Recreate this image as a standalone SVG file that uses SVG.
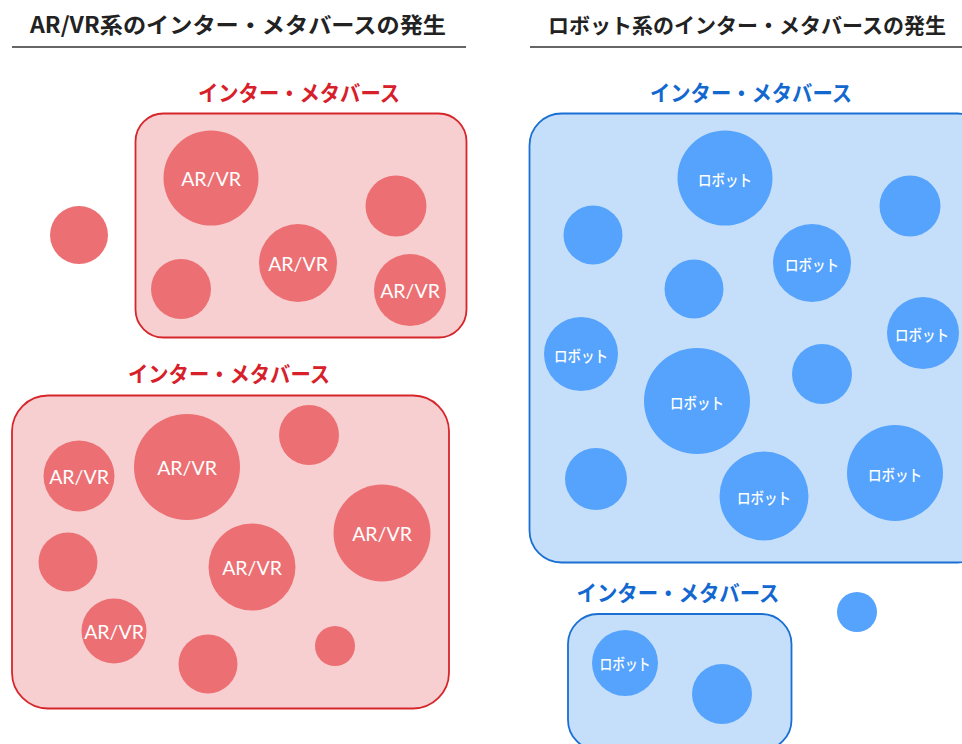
<svg xmlns="http://www.w3.org/2000/svg" width="962" height="744" viewBox="0 0 962 744">
<style>
.title{font-family:"Noto Sans CJK JP","Noto Sans",sans-serif;font-weight:700;font-size:22px;fill:#222;text-anchor:middle}
.title2{font-size:21px}
.rule{stroke:#333;stroke-width:1.3}
.lblr{font-family:"Noto Sans CJK JP",sans-serif;font-weight:700;font-size:22px;fill:#d7202a;text-anchor:middle}
.lblb{font-family:"Noto Sans CJK JP",sans-serif;font-weight:700;font-size:22px;fill:#1368d0;text-anchor:middle}
.boxr{fill:#f8cfd0;stroke:#d7262b;stroke-width:1.8}
.boxb{fill:#c5dffb;stroke:#1a6fd3;stroke-width:1.8}
.cr{fill:#ec7073}
.cb{fill:#55a3fc}
.tr{font-family:Lato,"Open Sans",sans-serif;font-size:19.5px;fill:#fff;text-anchor:middle;dominant-baseline:central}
.tb{font-family:"Noto Sans CJK JP",sans-serif;font-size:16px;font-weight:500;fill:#fff;text-anchor:middle;dominant-baseline:central}
</style>
<rect width="962" height="744" fill="#fff"/>
<g id="title-left">
<text class="title" x="238" y="33" textLength="416" lengthAdjust="spacingAndGlyphs">AR/VR系のインター・メタバースの発生</text>
<line class="rule" x1="12" y1="47" x2="466" y2="47"/>
</g>
<g id="title-right">
<text class="title title2" x="747" y="33" textLength="398" lengthAdjust="spacingAndGlyphs">ロボット系のインター・メタバースの発生</text>
<line class="rule" x1="530" y1="47" x2="962" y2="47"/>
</g>

<g id="ar-meta-1">
<text class="lblr" x="299" y="101" textLength="202" lengthAdjust="spacingAndGlyphs">インター・メタバース</text>
<rect class="boxr" x="135.5" y="113.5" width="331" height="224" rx="28"/>
<g id="ar1-a"><circle class="cr" cx="211" cy="178" r="47.5"/><text class="tr" x="211" y="178">AR/VR</text></g>
<g id="ar1-b"><circle class="cr" cx="396" cy="206" r="30.5"/></g>
<g id="ar1-c"><circle class="cr" cx="298" cy="263" r="39"/><text class="tr" x="298" y="263">AR/VR</text></g>
<g id="ar1-d"><circle class="cr" cx="181" cy="289" r="30"/></g>
<g id="ar1-e"><circle class="cr" cx="410" cy="290" r="36"/><text class="tr" x="410" y="290">AR/VR</text></g>
</g>
<g id="ar-lone"><circle class="cr" cx="79" cy="235" r="29"/></g>

<g id="ar-meta-2">
<text class="lblr" x="229" y="382" textLength="202" lengthAdjust="spacingAndGlyphs">インター・メタバース</text>
<rect class="boxr" x="12" y="395.5" width="437" height="313" rx="36"/>
<g id="ar2-a"><circle class="cr" cx="79" cy="476" r="35.5"/><text class="tr" x="79" y="476">AR/VR</text></g>
<g id="ar2-b"><circle class="cr" cx="187" cy="467" r="53"/><text class="tr" x="187" y="467">AR/VR</text></g>
<g id="ar2-c"><circle class="cr" cx="309" cy="435" r="30"/></g>
<g id="ar2-d"><circle class="cr" cx="382" cy="533" r="48.5"/><text class="tr" x="382" y="533">AR/VR</text></g>
<g id="ar2-e"><circle class="cr" cx="68" cy="562" r="29.5"/></g>
<g id="ar2-f"><circle class="cr" cx="252" cy="567" r="43.5"/><text class="tr" x="252" y="567">AR/VR</text></g>
<g id="ar2-g"><circle class="cr" cx="114" cy="631" r="32.5"/><text class="tr" x="114" y="631">AR/VR</text></g>
<g id="ar2-h"><circle class="cr" cx="208" cy="664" r="29.5"/></g>
<g id="ar2-i"><circle class="cr" cx="335" cy="646" r="20"/></g>
</g>

<g id="robot-meta-1">
<text class="lblb" x="751" y="101" textLength="202" lengthAdjust="spacingAndGlyphs">インター・メタバース</text>
<rect class="boxb" x="529.5" y="113.5" width="460" height="449" rx="32"/>
<g id="rb1-a"><circle class="cb" cx="725" cy="178" r="47.5"/><text class="tb" x="725" y="179" textLength="54" lengthAdjust="spacingAndGlyphs">ロボット</text></g>
<g id="rb1-b"><circle class="cb" cx="910" cy="206" r="30.5"/></g>
<g id="rb1-c"><circle class="cb" cx="593" cy="235" r="29.5"/></g>
<g id="rb1-d"><circle class="cb" cx="694" cy="289" r="29.5"/></g>
<g id="rb1-e"><circle class="cb" cx="812" cy="263" r="39"/><text class="tb" x="812" y="264" textLength="54" lengthAdjust="spacingAndGlyphs">ロボット</text></g>
<g id="rb1-f"><circle class="cb" cx="923" cy="333" r="36"/><text class="tb" x="922" y="334" textLength="54" lengthAdjust="spacingAndGlyphs">ロボット</text></g>
<g id="rb1-g"><circle class="cb" cx="581" cy="354" r="37"/><text class="tb" x="581" y="355" textLength="54" lengthAdjust="spacingAndGlyphs">ロボット</text></g>
<g id="rb1-h"><circle class="cb" cx="697" cy="401" r="53"/><text class="tb" x="697" y="402" textLength="54" lengthAdjust="spacingAndGlyphs">ロボット</text></g>
<g id="rb1-i"><circle class="cb" cx="822" cy="374" r="30"/></g>
<g id="rb1-j"><circle class="cb" cx="596" cy="479" r="31"/></g>
<g id="rb1-k"><circle class="cb" cx="764" cy="496" r="44.5"/><text class="tb" x="764" y="497" textLength="54" lengthAdjust="spacingAndGlyphs">ロボット</text></g>
<g id="rb1-l"><circle class="cb" cx="895" cy="473" r="48"/><text class="tb" x="895" y="474" textLength="54" lengthAdjust="spacingAndGlyphs">ロボット</text></g>
</g>

<g id="robot-meta-2">
<text class="lblb" x="678" y="601" textLength="203" lengthAdjust="spacingAndGlyphs">インター・メタバース</text>
<rect class="boxb" x="568" y="614" width="223.5" height="136" rx="30"/>
<g id="rb2-a"><circle class="cb" cx="625" cy="663" r="33"/><text class="tb" x="625" y="663" textLength="51" lengthAdjust="spacingAndGlyphs">ロボット</text></g>
<g id="rb2-b"><circle class="cb" cx="722" cy="694" r="30"/></g>
</g>
<g id="robot-lone"><circle class="cb" cx="857" cy="612" r="20"/></g>
</svg>
